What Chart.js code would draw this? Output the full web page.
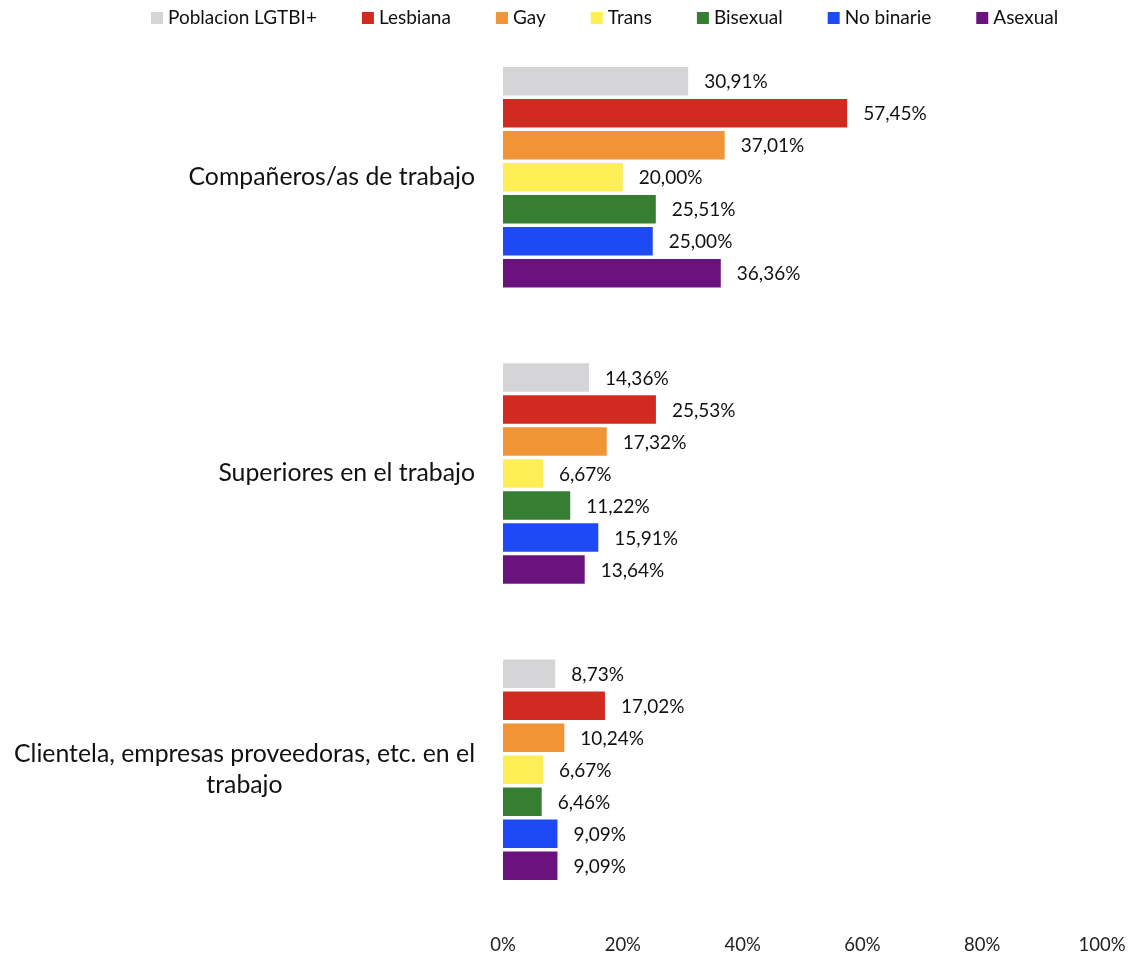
<!DOCTYPE html>
<html>
<head>
<meta charset="utf-8">
<title>Ámbito laboral</title>
<script src="https://cdn.jsdelivr.net/npm/chart.js@4/dist/chart.umd.min.js"></script>
<style>
  html, body { margin: 0; padding: 0; background: #fff; }
  #wrap { width: 1133px; height: 958px; }
</style>
</head>
<body>
<div id="wrap"><canvas id="chart"></canvas></div>
<script>
const categories = [
  ['Compañeros/as de trabajo'],
  ['Superiores en el trabajo'],
  ['Clientela, empresas proveedoras, etc. en el', 'trabajo']
];
const seriesNames = ['Poblacion LGTBI+', 'Lesbiana', 'Gay', 'Trans', 'Bisexual', 'No binarie', 'Asexual'];
const seriesColors = ['#D5D5D7', '#D12B21', '#F09436', '#FEEE55', '#367E32', '#1E4AF6', '#6A137F'];

const poblacion = [30.91, 14.36, 8.73];
const lesbiana = [57.45, 25.53, 17.02];
const gay = [37.01, 17.32, 10.24];
const trans = [20.00, 6.67, 6.67];
const bisexual = [25.51, 11.22, 6.46];
const noBinarie = [25.00, 15.91, 9.09];
const asexual = [36.36, 13.64, 9.09];

const xTicks = [0, 20, 40, 60, 80, 100];

const seriesValues = [poblacion, lesbiana, gay, trans, bisexual, noBinarie, asexual];
const FONT = 'Lato, "Liberation Sans", sans-serif';

const pct = v => v.toFixed(2).replace('.', ',') + '%';

// value labels to the right of each bar
const barLabels = {
  id: 'barLabels',
  afterDatasetsDraw(chart) {
    const ctx = chart.ctx;
    ctx.save();
    ctx.font = '19px ' + FONT;
    ctx.fillStyle = '#111';
    ctx.textAlign = 'left';
    ctx.textBaseline = 'middle';
    chart.data.datasets.forEach((ds, i) => {
      chart.getDatasetMeta(i).data.forEach((bar, j) => {
        ctx.fillText(pct(ds.data[j]), bar.x + 16, bar.y + 1);
      });
    });
    ctx.restore();
  }
};

// category names, each block right-aligned to the axis, lines centred inside it
const categoryLabels = {
  id: 'categoryLabels',
  afterDraw(chart) {
    const ctx = chart.ctx;
    const y = chart.scales.y;
    const rightEdge = chart.chartArea.left - 28;
    const lineH = 31;
    ctx.save();
    ctx.font = '24.8px ' + FONT;
    ctx.fillStyle = '#111';
    ctx.textAlign = 'center';
    ctx.textBaseline = 'middle';
    categories.forEach((lines, i) => {
      const w = Math.max(...lines.map(l => ctx.measureText(l).width));
      const cx = rightEdge - w / 2;
      const cy = y.getPixelForTick(i) - (lines.length - 1) * lineH / 2;
      lines.forEach((l, k) => ctx.fillText(l, cx, cy + k * lineH));
    });
    ctx.restore();
  }
};

// legend row across the top
const topLegend = {
  id: 'topLegend',
  afterDraw(chart) {
    const ctx = chart.ctx;
    const box = 12;
    let x = 151;
    const cy = 18;
    ctx.save();
    ctx.font = '19px ' + FONT;
    ctx.textBaseline = 'middle';
    ctx.textAlign = 'left';
    chart.data.datasets.forEach(ds => {
      ctx.fillStyle = ds.backgroundColor;
      ctx.fillRect(x, cy - box / 2, box, box);
      ctx.fillStyle = '#111';
      ctx.fillText(ds.label, x + box + 5, cy);
      x += box + 5 + ctx.measureText(ds.label).width + 45;
    });
    ctx.restore();
  }
};

new Chart(document.getElementById('chart'), {
  type: 'bar',
  data: {
    labels: categories,
    datasets: seriesNames.map((name, i) => ({
      label: name,
      data: seriesValues[i],
      backgroundColor: seriesColors[i],
      borderWidth: 0,
      categoryPercentage: 0.756,
      barPercentage: 0.89
    }))
  },
  options: {
    indexAxis: 'y',
    responsive: true,
    maintainAspectRatio: false,
    animation: false,
    layout: { padding: { top: 29, right: 31, bottom: 0, left: 0 } },
    plugins: {
      legend: { display: false },
      tooltip: { enabled: false }
    },
    scales: {
      x: {
        min: 0,
        max: 100,
        afterBuildTicks(scale) {
          scale.ticks = xTicks.map(v => ({ value: v }));
        },
        afterFit(scale) {
          scale.height = 40;
          scale.paddingLeft = 0;
          scale.paddingRight = 0;
        },
        grid: { display: false, drawTicks: false },
        border: { display: false },
        ticks: {
          padding: 16,
          color: '#222',
          font: { family: FONT, size: 18.5 },
          callback: v => v + '%'
        }
      },
      y: {
        grid: { display: false, drawTicks: false },
        border: { display: false },
        ticks: { display: false },
        afterFit(scale) { scale.width = 503; }
      }
    }
  },
  plugins: [barLabels, categoryLabels, topLegend]
});
</script>
</body>
</html>
